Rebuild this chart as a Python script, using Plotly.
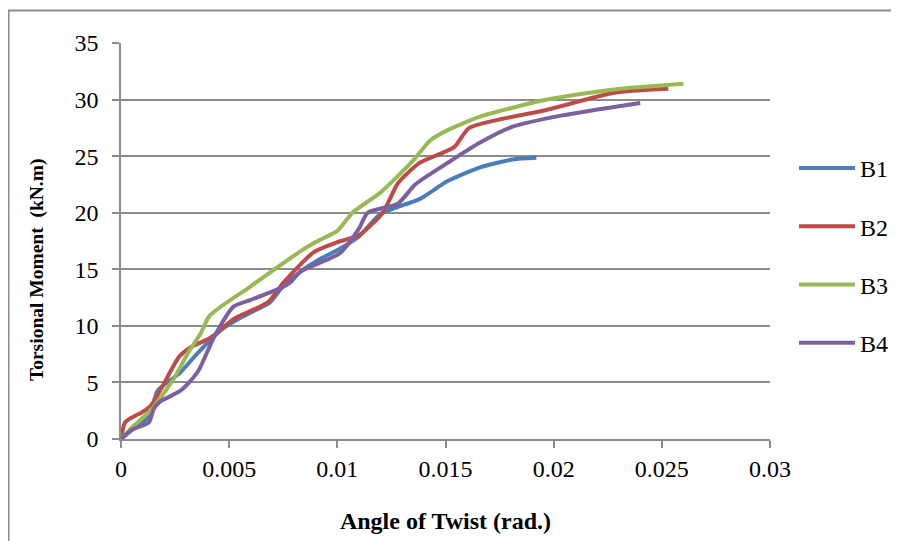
import plotly.graph_objects as go

# Data
b1_x = [0, 0.0005, 0.0013, 0.0017, 0.0027, 0.0035, 0.0046, 0.0056, 0.0069, 0.0074, 0.0083, 0.0092, 0.0101, 0.0110, 0.0120, 0.0138, 0.0151, 0.0166, 0.0181, 0.0192]
b1_y = [0, 0.8, 2.0, 4.3, 5.8, 7.5, 9.6, 10.8, 12.1, 13.3, 14.8, 15.9, 16.8, 17.9, 19.9, 21.2, 22.8, 24.0, 24.7, 24.85]

b2_x = [0, 0.0002, 0.0010, 0.0014, 0.0019, 0.0027, 0.0033, 0.0041, 0.0052, 0.0068, 0.0075, 0.0089, 0.0100, 0.0110, 0.0121, 0.0128, 0.0138, 0.0154, 0.0161, 0.0197, 0.0228, 0.0253]
b2_y = [0, 1.5, 2.4, 3.0, 4.6, 7.3, 8.2, 8.9, 10.6, 12.1, 13.8, 16.5, 17.4, 18.0, 20.0, 22.6, 24.4, 25.8, 27.5, 29.1, 30.6, 30.95]

b3_x = [0, 0.0005, 0.0014, 0.0024, 0.0031, 0.0037, 0.0041, 0.0060, 0.0083, 0.0092, 0.0100, 0.0107, 0.0120, 0.0135, 0.0143, 0.0151, 0.0166, 0.0197, 0.0228, 0.0260]
b3_y = [0, 1.0, 2.6, 5.2, 7.6, 9.4, 10.9, 13.5, 16.6, 17.6, 18.4, 20.0, 21.8, 24.6, 26.4, 27.3, 28.5, 30.0, 30.9, 31.4]

b4_x = [0, 0.0005, 0.0013, 0.0015, 0.0018, 0.0027, 0.0031, 0.0036, 0.0043, 0.0052, 0.0060, 0.0072, 0.0078, 0.0083, 0.0101, 0.0110, 0.0114, 0.0128, 0.0136, 0.0151, 0.0166, 0.0181, 0.0204, 0.0240]
b4_y = [0, 0.8, 1.5, 2.6, 3.3, 4.2, 4.9, 6.1, 9.0, 11.7, 12.3, 13.2, 13.8, 14.8, 16.4, 18.6, 20.0, 20.8, 22.5, 24.4, 26.2, 27.6, 28.6, 29.7]

series = [
    ("B1", b1_x, b1_y, "#4A7EBB"),
    ("B2", b2_x, b2_y, "#BE4B48"),
    ("B3", b3_x, b3_y, "#98B954"),
    ("B4", b4_x, b4_y, "#7D60A0"),
]

x_ticks = [0, 0.005, 0.01, 0.015, 0.02, 0.025, 0.03]
x_tick_labels = ["0", "0.005", "0.01", "0.015", "0.02", "0.025", "0.03"]
y_ticks = [0, 5, 10, 15, 20, 25, 30, 35]

x_title = "Angle of Twist (rad.)"
y_title = "Torsional Moment  (kN.m)"

fig = go.Figure()
for name, xs, ys, col in series:
    fig.add_trace(go.Scatter(
        x=xs, y=ys, name=name, mode="lines",
        line=dict(color=col, width=4, shape="spline", smoothing=0.6),
        legendgroup=name,
    ))

font_family = "Liberation Serif, Times New Roman, serif"
grey = "#8C8C8C"

fig.update_layout(
    width=891, height=533,
    margin=dict(l=113, r=129, t=35, b=102, autoexpand=False),
    paper_bgcolor="white", plot_bgcolor="white",
    font=dict(family=font_family, size=24, color="black"),
    showlegend=True,
    legend=dict(
        x=(794.0 - 121) / 649, y=(439 - 255.5) / 396, xanchor="left", yanchor="middle",
        font=dict(family=font_family, size=24, color="black"),
        tracegroupgap=24, itemwidth=56,
        bgcolor="rgba(0,0,0,0)",
    ),
    xaxis=dict(
        range=[0, 0.03], tickvals=x_ticks, ticktext=x_tick_labels,
        showgrid=False, zeroline=False,
        showline=True, linecolor=grey, linewidth=1.5,
        ticks="outside", ticklen=7, tickcolor=grey, tickwidth=1.5,
        tickfont=dict(family=font_family, size=24),
        title=dict(text="<b>" + x_title + "</b>", font=dict(family=font_family, size=24), standoff=32),
    ),
    yaxis=dict(
        range=[0, 35], tickvals=y_ticks,
        showgrid=True, gridcolor=grey, gridwidth=1.5,
        zeroline=False,
        showline=True, linecolor=grey, linewidth=1.5,
        ticks="outside", ticklen=7, tickcolor=grey, tickwidth=1.5,
        ticklabelstandoff=9,
        tickfont=dict(family=font_family, size=24),
    ),
    annotations=[dict(
        text="<b>" + y_title + "</b>", textangle=-90,
        xref="paper", yref="paper",
        x=(37 - 121) / 649, y=(439 - 270) / 396,
        xanchor="center", yanchor="middle", showarrow=False,
        font=dict(family=font_family, size=19.5, color="black"),
    )],
    shapes=[dict(
        type="rect", xref="paper", yref="paper",
        x0=(0.5 - 113) / 649, x1=2.0, y0=-1.0, y1=(431 - 2.5) / 396,
        line=dict(color=grey, width=2), fillcolor="rgba(0,0,0,0)", layer="below",
    )],
)

fig.write_html("out.html")
